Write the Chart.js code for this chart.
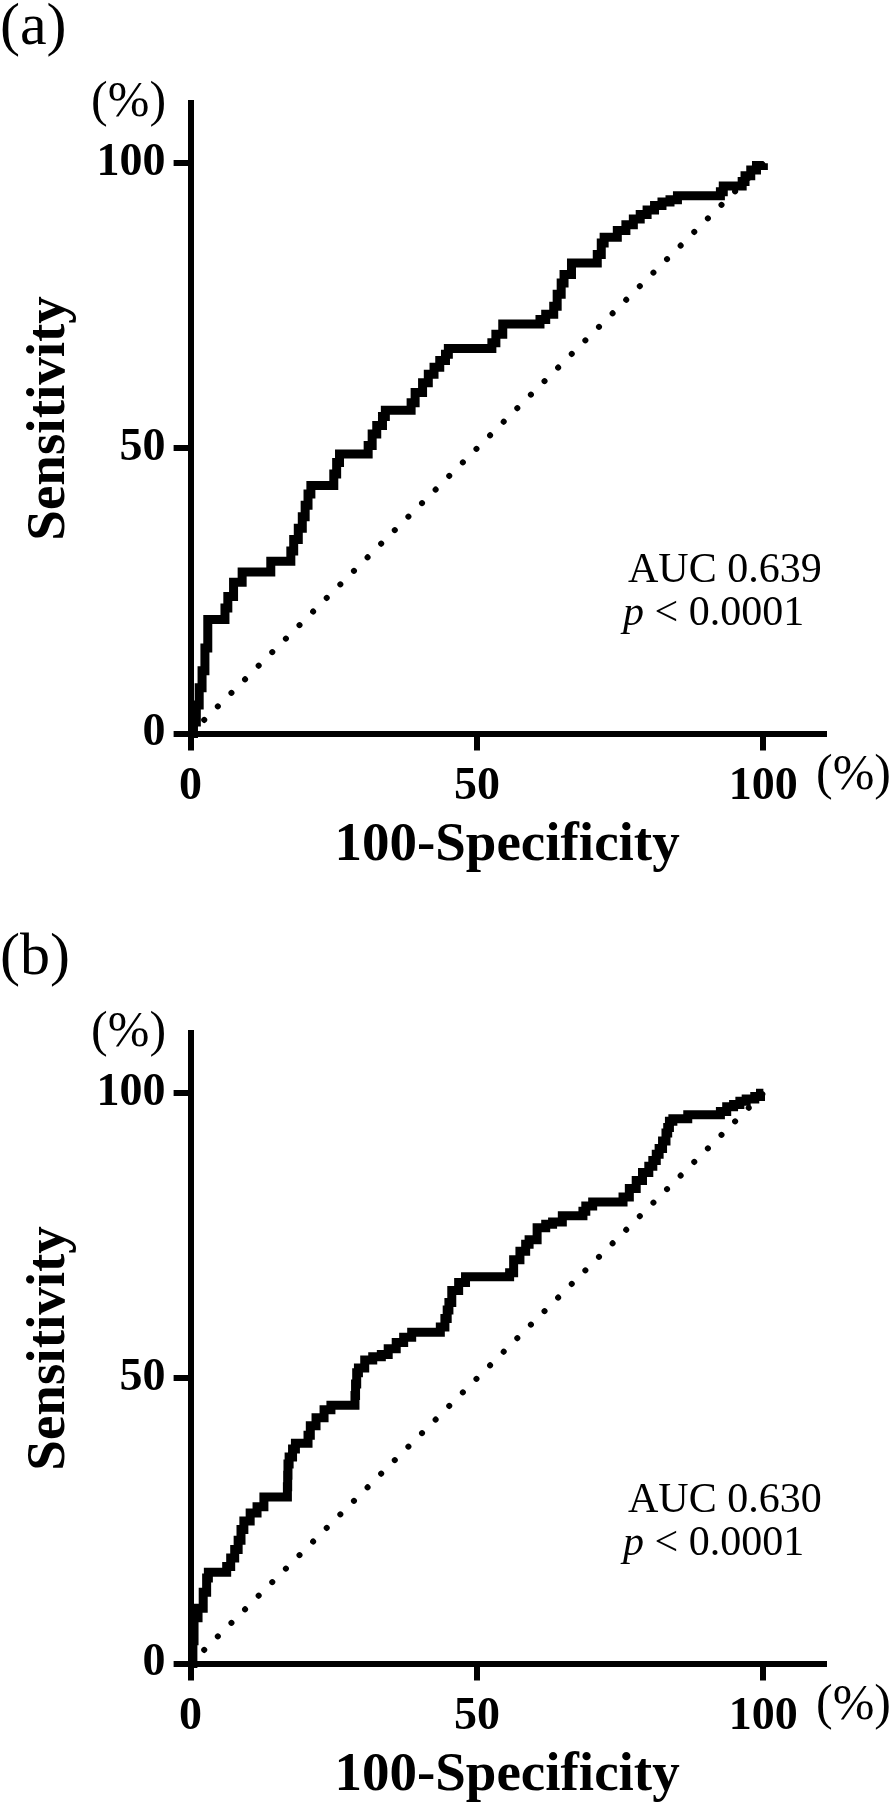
<!DOCTYPE html>
<html><head><meta charset="utf-8">
<script src="https://cdn.jsdelivr.net/npm/chart.js@4.4.1/dist/chart.umd.min.js"></script>
<style>
html,body{margin:0;padding:0;background:#fff;overflow:hidden;width:893px;height:1808px}
.panel{position:absolute;left:0;width:893px}
canvas{display:block}
</style></head><body>
<div class="panel" style="top:0;height:930px"><canvas id="cA" width="893" height="930"></canvas></div>
<div class="panel" style="top:930px;height:878px"><canvas id="cB" width="893" height="878"></canvas></div>
<script>
// ---- data ----
const panelLabels = ['(a)', '(b)'];
const aucTexts = ['AUC 0.639', 'AUC 0.630'];
const pItalic = 'p';
const pRest = ' < 0.0001';
const tickValues = [0, 50, 100];
const axisMax = 110.5;
const xTitle = '100-Specificity';
const yTitle = 'Sensitivity';
const unitLabel = '(%)';
const refX = [0, 100];
const refY = [0, 100];

const rocA_x = [0,0.5,1,1.5,2,2.5,3, 6,6.5,7.5,9, 14, 17.5,18,18.8,19.5,20,20.5,21, 25,25.5,26, 31,31.7,32.5,33.5,34, 38.5,39.2,40.5,41.5,42.5,43.5,44.5,45, 52.6,53.3,54.5, 61,62,63.4,64,64.7,65.2,66.5, 71,71.7,72.2, 74.5,76,77.3,78.5,79.7,81,82.3,83.7,85, 92.5,93, 96.3,96.8,97.8,98.8,100];
const rocA_y = [0,2,5,8,11,15,20, 22,24,26.5,28.3, 30.2, 32,34,36,38,40,42,43.5, 45.5,47.5,49, 50.5,52.5,54,55.6,56.7, 58,59.8,61.5,63,64.2,65.4,66.5,67.5, 68.5,70,71.8, 72.6,73.5,74.9,77,79,80.5,82.5, 84,86,87, 88.2,89.2,90.2,91,91.8,92.6,93.2,93.6,94.3, 95,96, 96.8,97.8,98.8,99.6,100];

const rocB_x = [0,0.4,0.6,1.3,2.2,2.8,3.1, 6.3,7,7.7,8.3,8.8,9.3,10.4,11.6,12.8, 16.9,16.95,17,17.2,17.8,18.3, 20.5,20.9,21.9,23.3,24.5, 28.7,28.8,29,29.3,30.4,31.8,33.3,34.5,35.9,37.2,38.6, 43.6,44.4,44.8,45.1,45.6,46.8,48, 55.7,56.4,57.5,58.5,59.1,60.5,62,63.2,64.9, 68.5,69,70.2, 75.5,76.6,77.8,78.9,80,80.7,81.3,81.8,82.4,83,83.3,83.6,84.2, 86.8,92.5,93.6,94.8,95.9,97,98.5,99.5,100];
const rocB_y = [0,4,8,9.7,12.5,15,16, 17,18.5,20,21.6,23.5,25,26.4,27.5,29.2, 31,33,35,36.2,37.6,38.6, 40,41.7,43.1,44.5,45.3, 47,49,51,51.8,53.2,53.8,54.2,55.2,56.3,57.2,58.1, 59,60.5,62,63.3,65.4,66.8,67.8, 68.5,70.8,72.3,73.5,74.3,76.4,77,77.4,78.5, 79.3,80.2,80.9, 81.8,83.3,84.7,86.1,87.2,88.2,89.3,90.3,91.6,93,94,95.1,95.5, 96.2,96.8,97.6,98,98.6,99,99.4,100,100];

// ---- drawing ----
const SERIF = '"Liberation Serif", "Times New Roman", serif';
const toPts = (xs, ys) => xs.map((x, i) => ({x, y: ys[i]}));

const annotPlugin = {
  id: 'annot',
  afterDraw(chart, args, opts) {
    const ctx = chart.ctx;
    const ca = chart.chartArea;
    ctx.save();
    ctx.fillStyle = '#000';
    ctx.textBaseline = 'alphabetic';
    ctx.textAlign = 'left';
    ctx.font = '60px ' + SERIF;
    ctx.fillText(opts.label, 0, 44);
    ctx.font = '50px ' + SERIF;
    ctx.textAlign = 'center';
    ctx.fillText(unitLabel, ca.left - 62, 116);
    ctx.fillText(unitLabel, ca.right + 30, ca.bottom + 55);
    ctx.textAlign = 'left';
    ctx.font = '42px ' + SERIF;
    ctx.fillText(opts.auc, 628, 582);
    ctx.font = 'italic 42px ' + SERIF;
    ctx.fillText(pItalic, 623, 625);
    const w = ctx.measureText(pItalic).width;
    ctx.font = '42px ' + SERIF;
    ctx.fillText(pRest, 623 + w, 625);
    ctx.restore();
  }
};

function makeChart(id, H, label, auc, rx, ry) {
  const tickFont = {family: SERIF, weight: 'bold', size: 46, lineHeight: 1};
  return new Chart(document.getElementById(id), {
    type: 'line',
    data: {
      datasets: [
        {
          data: toPts(rx, ry),
          borderColor: '#000', borderWidth: 9, stepped: 'before',
          pointRadius: 0, tension: 0, fill: false, clip: false,
          borderJoinStyle: 'miter', borderCapStyle: 'butt'
        },
        {
          data: toPts(refX, refY),
          borderColor: '#000', borderWidth: 6, borderDash: [0.01, 19.2],
          borderCapStyle: 'round', pointRadius: 0, fill: false, clip: false
        }
      ]
    },
    options: {
      responsive: false, animation: false, devicePixelRatio: 1,
      layout: {padding: {left: 0, top: 103.3, right: 893 - 823.5, bottom: H - 878}},
      plugins: {legend: {display: false}, tooltip: {enabled: false}, annot: {label, auc}},
      scales: {
        x: {
          type: 'linear', min: 0, max: axisMax,
          afterBuildTicks: s => { s.ticks = tickValues.map(v => ({value: v})); },
          afterFit: s => { s.height = 878 - 733.5; },
          border: {display: true, color: '#000', width: 6},
          grid: {display: true, drawOnChartArea: false, drawTicks: true, tickLength: 17, tickWidth: 6, tickColor: '#000', color: '#000', lineWidth: 6},
          ticks: {color: '#000', font: tickFont, padding: 13.5, maxRotation: 0, autoSkip: false},
          title: {display: true, text: xTitle, color: '#000', font: {family: SERIF, weight: 'bold', size: 55, lineHeight: 1}, padding: {top: 0, bottom: 5}}
        },
        y: {
          type: 'linear', min: 0, max: axisMax,
          afterBuildTicks: s => { s.ticks = tickValues.map(v => ({value: v})); },
          afterFit: s => { s.width = 190.6; },
          border: {display: true, color: '#000', width: 6},
          grid: {display: true, drawOnChartArea: false, drawTicks: true, tickLength: 17, tickWidth: 6, tickColor: '#000', color: '#000', lineWidth: 6},
          ticks: {color: '#000', font: tickFont, padding: 8, autoSkip: false},
          title: {display: true, text: yTitle, color: '#000', font: {family: SERIF, weight: 'bold', size: 55, lineHeight: 1}, padding: {top: 22, bottom: 0}}
        }
      }
    },
    plugins: [annotPlugin]
  });
}

makeChart('cA', 930, panelLabels[0], aucTexts[0], rocA_x, rocA_y);
makeChart('cB', 878, panelLabels[1], aucTexts[1], rocB_x, rocB_y);
</script>
</body></html>
